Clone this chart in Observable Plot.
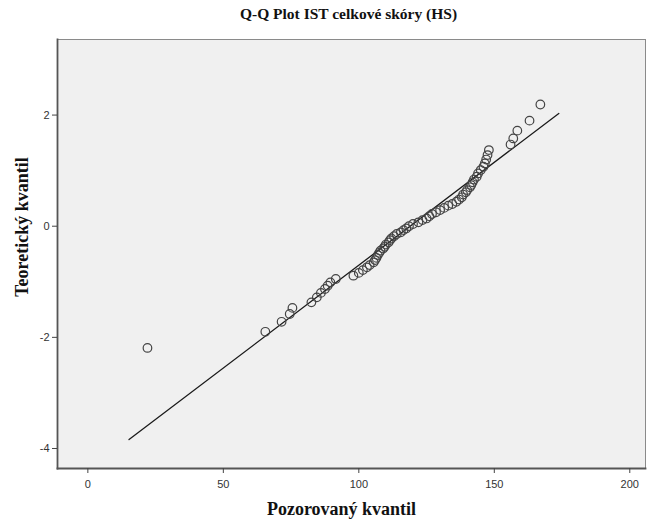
<!DOCTYPE html>
<html>
<head>
<meta charset="utf-8">
<script src="https://cdn.jsdelivr.net/npm/d3@7"></script>
<script src="https://cdn.jsdelivr.net/npm/@observablehq/plot@0.6"></script>
<style>
  body { margin: 0; background: #fff; }
  #title {
    width: 651px; height: 30px; box-sizing: border-box; padding-top: 5px; padding-left: 46px;
    text-align: center; font-family: "Liberation Serif", "Times New Roman", serif;
    font-weight: bold; font-size: 15.5px; color: #111;
  }
</style>
</head>
<body>
<div id="title"></div>
<div id="chart"></div>
<script>
// ---- data ----
const chartTitle = "Q-Q Plot IST celkové skóry (HS)";
const xLabel = "Pozorovaný kvantil";
const yLabel = "Teoretický kvantil";

// observed values (x) and theoretical quantiles (y) of each circle
const observed = [22, 65.5, 71.5, 74.5, 75.5, 82.5, 84.5, 86, 87.5, 88.5, 89.5, 91.5, 98, 100, 101.5,
  103, 104, 105.5, 106, 106.5, 107, 107.5, 108, 109, 109.5, 110, 111, 111.5, 112, 113, 114, 115.5,
  116.5, 117.5, 118.5, 120, 122, 123.5, 125, 126, 127, 128.5, 130, 131.5, 133, 134.5, 136, 137,
  138, 138.5, 139.5, 140, 141, 141.5, 142, 142.5, 143.5, 144, 145, 146, 146.5, 147, 147.5, 148,
  156, 157, 158.5, 163, 167];
const theoretical = [-2.19, -1.90, -1.72, -1.58, -1.47, -1.37, -1.28, -1.20, -1.13, -1.07, -1.01,
  -0.95, -0.89, -0.84, -0.79, -0.74, -0.70, -0.65, -0.61, -0.57, -0.52, -0.48, -0.44, -0.40, -0.37,
  -0.33, -0.29, -0.25, -0.22, -0.18, -0.14, -0.11, -0.07, -0.04, 0.00, 0.04, 0.07, 0.11, 0.14,
  0.18, 0.22, 0.25, 0.29, 0.33, 0.37, 0.40, 0.44, 0.48, 0.52, 0.57, 0.61, 0.65, 0.70, 0.74, 0.79,
  0.84, 0.89, 0.95, 1.01, 1.07, 1.13, 1.20, 1.28, 1.37, 1.47, 1.58, 1.72, 1.90, 2.19];

// reference line end points
const lineX = [15.2, 173.8];
const lineY = [-3.84, 2.03];

const xTicks = [0, 50, 100, 150, 200];
const yTicks = [-4, -2, 0, 2];
const xDomain = [-11.2, 205.8];
const yDomain = [-4.36, 3.36];

// ---- build ----
document.getElementById("title").textContent = chartTitle;

const points = observed.map((x, i) => ({x, y: theoretical[i]}));
const linePts = lineX.map((x, i) => ({x, y: lineY[i]}));
const fmt = d => String(d);

const chart = Plot.plot({
  width: 651,
  height: 490,
  marginLeft: 57,
  marginRight: 6,
  marginTop: 9,
  marginBottom: 52,
  style: {fontFamily: "Liberation Sans, Arial, sans-serif", fontSize: "11px", color: "#333", background: "#fff"},
  x: {domain: xDomain},
  y: {domain: yDomain},
  marks: [
    Plot.frame({fill: "#f0f0f0", stroke: "#8a8a8a", strokeWidth: 1}),
    Plot.frame({anchor: "left", stroke: "#555", strokeWidth: 1.8}),
    Plot.frame({anchor: "bottom", stroke: "#555", strokeWidth: 1.8}),
    Plot.axisX({ticks: xTicks, tickFormat: fmt, tickSize: 5, tickPadding: 7, label: null, stroke: "#444"}),
    Plot.axisY({ticks: yTicks, tickFormat: fmt, tickSize: 5, tickPadding: 3, label: null, stroke: "#444"}),
    Plot.line(linePts, {x: "x", y: "y", stroke: "#1a1a1a", strokeWidth: 1.3}),
    Plot.dot(points, {x: "x", y: "y", r: 4.3, stroke: "#444", strokeWidth: 1.2, fill: "none"}),
    Plot.text([xLabel], {frameAnchor: "bottom", dx: -10, dy: 46, text: d => d,
      fontFamily: "Liberation Serif, Times New Roman, serif", fontWeight: "bold", fontSize: 18, fill: "#111"}),
    Plot.text([yLabel], {frameAnchor: "left", textAnchor: "middle", dx: -35, dy: -27, rotate: -90, text: d => d,
      fontFamily: "Liberation Serif, Times New Roman, serif", fontWeight: "bold", fontSize: 18, fill: "#111"})
  ]
});
document.getElementById("chart").append(chart);
</script>
</body>
</html>
